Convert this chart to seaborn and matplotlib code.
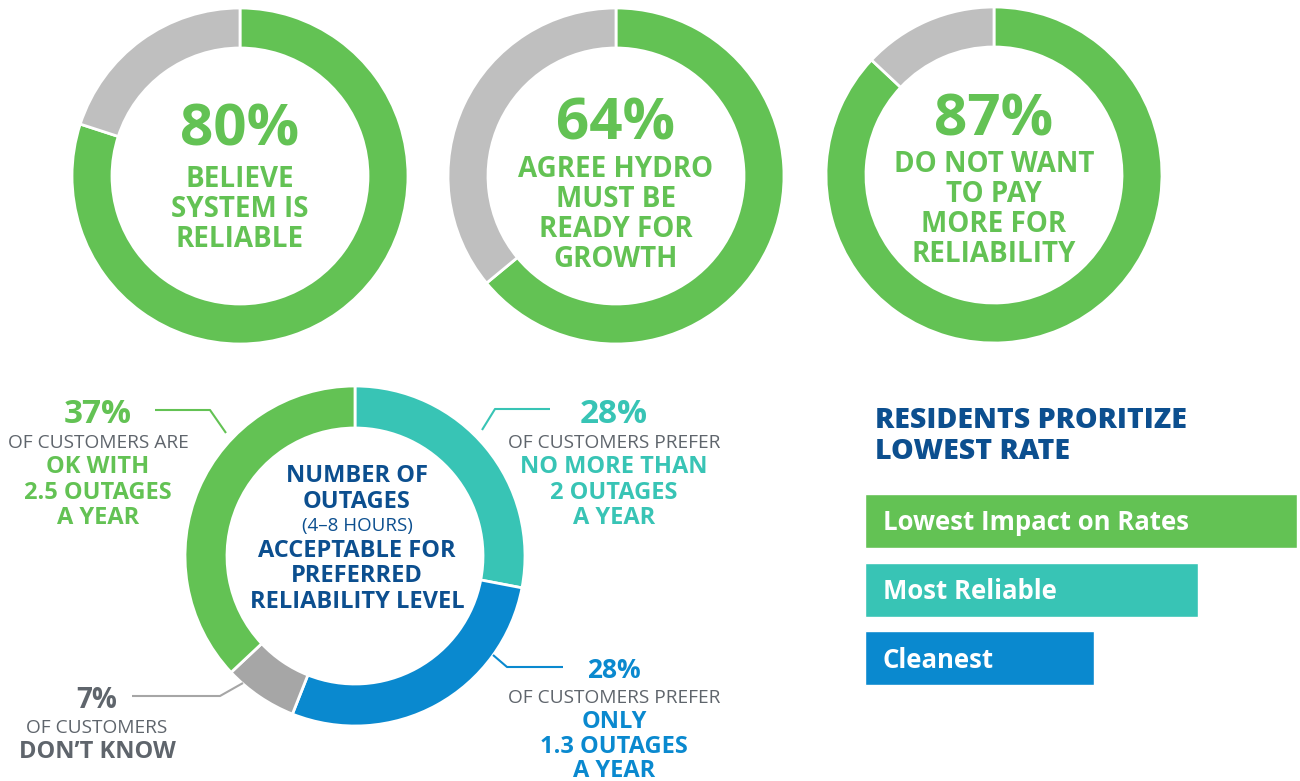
import matplotlib
matplotlib.use("Agg")
import matplotlib.pyplot as plt
import seaborn as sns

W, H, DPI = 1300, 781, 100

# ---- survey results -------------------------------------------------------
survey_shares = [80, 64, 87]
survey_headlines = ["80%", "64%", "87%"]
survey_captions = [
    ["BELIEVE", "SYSTEM IS", "RELIABLE"],
    ["AGREE HYDRO", "MUST BE", "READY FOR", "GROWTH"],
    ["DO NOT WANT", "TO PAY", "MORE FOR", "RELIABILITY"],
]

# acceptable outages per year (clockwise from 12 o'clock)
outage_groups = ["No more than 2 outages", "Only 1.3 outages", "Don't know", "OK with 2.5 outages"]
outage_shares = [28, 28, 7, 37]

# rate / reliability / environment priorities (relative index)
priority_labels = ["Lowest Impact on Rates", "Most Reliable", "Cleanest"]
priority_index = [100, 77, 53]

# ---- palette --------------------------------------------------------------
GREEN = "#63c254"
TEAL = "#38c4b5"
BLUE = "#0a89cf"
LIGHT_GREY = "#bfbfbf"
MID_GREY = "#a6a6a6"
NAVY = "#0c4f8f"
TEXT_GREY = "#5f656c"

sns.set_theme(style="white")
plt.rcParams["font.family"] = ["Open Sans", "DejaVu Sans"]

fig = plt.figure(figsize=(W / DPI, H / DPI), dpi=DPI)
fig.patch.set_facecolor("white")


def px_axes(x0, y0, w, h):
    """Axes placed by its top-left corner and size in pixels."""
    return fig.add_axes([x0 / W, 1 - (y0 + h) / H, w / W, h / H])


def donut(cx, cy, r_out, ring, values, colors):
    ax = px_axes(cx - r_out, cy - r_out, 2 * r_out, 2 * r_out)
    ax.pie(values, colors=colors, startangle=90, counterclock=False, radius=1,
           wedgeprops=dict(width=ring / r_out, edgecolor="white", linewidth=2))
    ax.set_xlim(-1, 1)
    ax.set_ylim(-1, 1)
    ax.set_aspect("equal")
    ax.axis("off")
    return ax


# ---- top row: three single-metric rings -----------------------------------
top_centres = [(240, 176), (616, 176), (994, 175)]
for (cx, cy), share in zip(top_centres, survey_shares):
    donut(cx, cy, 168, 40, [share, 100 - share], [GREEN, LIGHT_GREY])

# ---- bottom ring: acceptable outages --------------------------------------
donut(355, 556, 170, 42, outage_shares, [TEAL, BLUE, MID_GREY, GREEN])

# ---- priorities bar chart -------------------------------------------------
bar_pitch = 68.5
ax_b = px_axes(865, 521 - bar_pitch / 2, 432, 3 * bar_pitch)
sns.barplot(x=priority_index, y=priority_labels, hue=priority_labels,
            palette=[GREEN, TEAL, BLUE], legend=False, orient="h",
            width=54 / bar_pitch, saturation=1, ax=ax_b)
ax_b.set_xlim(0, 100)
ax_b.set_ylim(2.5, -0.5)
ax_b.axis("off")
for i, lab in enumerate(priority_labels):
    ax_b.text(18 / 4.32, i + 9.5 / bar_pitch, lab, va="baseline", ha="left",
              color="white", fontsize=18.5, fontweight="bold")

# ---- overlay for text and leader lines (pixel coordinates) ----------------
ov = fig.add_axes([0, 0, 1, 1])
ov.set_xlim(0, W)
ov.set_ylim(H, 0)
ov.axis("off")
ov.patch.set_alpha(0)


def txt(x, y, s, size, color, weight="bold", ha="center"):
    ov.text(x, y, s, ha=ha, va="baseline", fontsize=size, fontweight=weight, color=color)


# ring headlines
head_base = [146, 139, 135]
cap_base = [[187, 217, 247], [177, 207, 237, 267], [172, 202, 232, 262]]
for (cx, _), head, hb, lines, bases in zip(top_centres, survey_headlines, head_base,
                                             survey_captions, cap_base):
    txt(cx, hb, head, 42, GREEN)
    for line, b in zip(lines, bases):
        txt(cx, b, line, 20, GREEN)

# centre of the outage ring
txt(357, 482, "NUMBER OF", 17, NAVY)
txt(357, 508, "OUTAGES", 17, NAVY)
txt(357, 531, "(4\u20138 HOURS)", 13.5, NAVY, weight="normal")
txt(357, 557, "ACCEPTABLE FOR", 17, NAVY)
txt(357, 582, "PREFERRED", 17, NAVY)
txt(357, 608, "RELIABILITY LEVEL", 17, NAVY)

# call-outs
txt(98, 423, "37%", 24, GREEN)
txt(98, 448, "OF CUSTOMERS ARE", 13.8, TEXT_GREY, weight="normal")
txt(98, 473, "OK WITH", 17, GREEN)
txt(98, 499, "2.5 OUTAGES", 17, GREEN)
txt(98, 524, "A YEAR", 17, GREEN)

txt(97, 708, "7%", 20, TEXT_GREY)
txt(97, 733, "OF CUSTOMERS", 13.8, TEXT_GREY, weight="normal")
txt(97, 758, "DON\u2019T KNOW", 17, TEXT_GREY)

txt(614, 423, "28%", 24, TEAL)
txt(614, 448, "OF CUSTOMERS PREFER", 13.8, TEXT_GREY, weight="normal")
txt(614, 473, "NO MORE THAN", 17, TEAL)
txt(614, 499, "2 OUTAGES", 17, TEAL)
txt(614, 524, "A YEAR", 17, TEAL)

txt(614, 678, "28%", 19, BLUE)
txt(614, 703, "OF CUSTOMERS PREFER", 13.8, TEXT_GREY, weight="normal")
txt(614, 728, "ONLY", 17, BLUE)
txt(614, 753, "1.3 OUTAGES", 17, BLUE)
txt(614, 777, "A YEAR", 17, BLUE)

# leader lines
ov.plot([155, 210, 226], [410, 410, 433], color=GREEN, lw=1.5, solid_capstyle="butt")
ov.plot([132, 220, 243], [696, 696, 683], color=MID_GREY, lw=1.5, solid_capstyle="butt")
ov.plot([550, 495, 482], [409, 409, 430], color=TEAL, lw=1.5, solid_capstyle="butt")
ov.plot([493, 507, 563], [655, 667, 667], color=BLUE, lw=1.5, solid_capstyle="butt")

# bar chart title
txt(875, 428, "RESIDENTS PRORITIZE", 20.5, NAVY, weight="heavy", ha="left")
txt(875, 459, "LOWEST RATE", 20.5, NAVY, weight="heavy", ha="left")

fig.savefig("out.png", dpi=DPI, facecolor="white")
